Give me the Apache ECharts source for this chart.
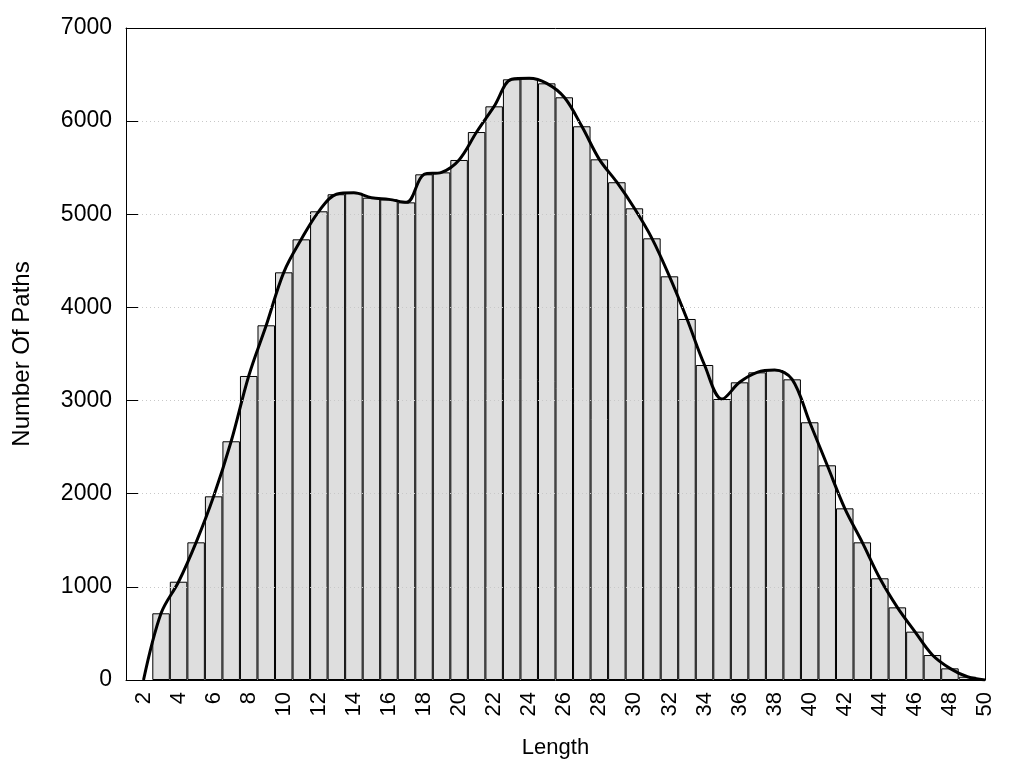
<!DOCTYPE html>
<html>
<head>
<meta charset="utf-8">
<script src="https://cdn.jsdelivr.net/npm/echarts@6/dist/echarts.min.js"></script>
<style>html,body{margin:0;padding:0;background:#fff;}#c{width:1024px;height:768px;}</style>
</head>
<body>
<div id="c"></div>
<script>
// Bar data: path length and number of paths
var lengths = [3,4,5,6,7,8,9,10,11,12,13,14,15,16,17,18,19,20,21,22,23,24,25,26,27,28,29,30,31,32,33,34,35,36,37,38,39,40,41,42,43,44,45,46,47,48,49];
var counts  = [716,1055,1478,1972,2563,3264,3808,4377,4731,5032,5215,5230,5178,5160,5128,5429,5450,5583,5883,6159,6449,6460,6406,6256,5945,5590,5344,5064,4742,4334,3876,3382,3017,3196,3303,3328,3228,2767,2305,1843,1478,1092,780,519,268,125,35];
// Smoothed curve end points
var curveStartX = 2, curveStartY = 0;
var curveEndX = 50, curveEndY = 0;
// Axis
var xMin = 1, xMax = 50;
var yMin = 0, yMax = 7000, yStep = 1000;

var barData = lengths.map(function (l, i) { return [l, counts[i]]; });
var lineData = [[curveStartX, curveStartY]].concat(barData).concat([[curveEndX, curveEndY]]);

var chart = echarts.init(document.getElementById('c'), null, {renderer: 'canvas'});
var font = '"Liberation Sans", Arial, sans-serif';
chart.setOption({
  animation: false,
  backgroundColor: '#fff',
  grid: {left: 126, right: 39, top: 28, bottom: 88, show: false},
  xAxis: [{
    type: 'value', min: xMin, max: xMax, interval: 1,
    name: 'Length', nameLocation: 'middle', nameGap: 57,
    nameTextStyle: {fontFamily: font, fontSize: 22, color: '#000'},
    axisLine: {show: true, lineStyle: {color: '#000', width: 1}},
    axisTick: {show: false},
    splitLine: {show: false},
    axisLabel: {
      rotate: 90, margin: 12, fontFamily: font, fontSize: 22, color: '#000',
      formatter: function (v) { return v % 2 === 0 ? String(v) : ''; }
    },
    z: 5
  }, {
    type: 'value', min: xMin, max: xMax, position: 'top',
    axisLine: {show: true, onZero: false, lineStyle: {color: '#000', width: 1}},
    axisTick: {show: false}, axisLabel: {show: false}, splitLine: {show: false},
    z: 5
  }],
  yAxis: [{
    type: 'value', min: yMin, max: yMax, interval: yStep,
    name: 'Number Of Paths', nameLocation: 'middle', nameGap: 92,
    nameTextStyle: {fontFamily: font, fontSize: 24, color: '#000'},
    axisLine: {show: true, lineStyle: {color: '#000', width: 1}},
    axisTick: {show: true, inside: true, length: 12, lineStyle: {color: '#000'}},
    splitLine: {show: true, lineStyle: {color: '#c8c8c8', width: 1, type: [1, 3]}},
    axisLabel: {margin: 14, fontFamily: font, fontSize: 23, color: '#000',
      formatter: function (v) { return String(v); }},
    z: 5
  }, {
    type: 'value', min: yMin, max: yMax, position: 'right',
    axisLine: {show: true, onZero: false, lineStyle: {color: '#000', width: 1}},
    axisTick: {show: false}, axisLabel: {show: false}, splitLine: {show: false},
    z: 5
  }],
  series: [
    {
      type: 'bar', data: barData, barWidth: 17.5,
      itemStyle: {color: '#dedede', borderColor: '#000', borderWidth: 1},
      z: 2
    },
    {
      type: 'line', data: lineData, smooth: 0.35, showSymbol: false, symbol: 'none',
      lineStyle: {color: '#000', width: 3},
      z: 3
    }
  ]
});
</script>
</body>
</html>
